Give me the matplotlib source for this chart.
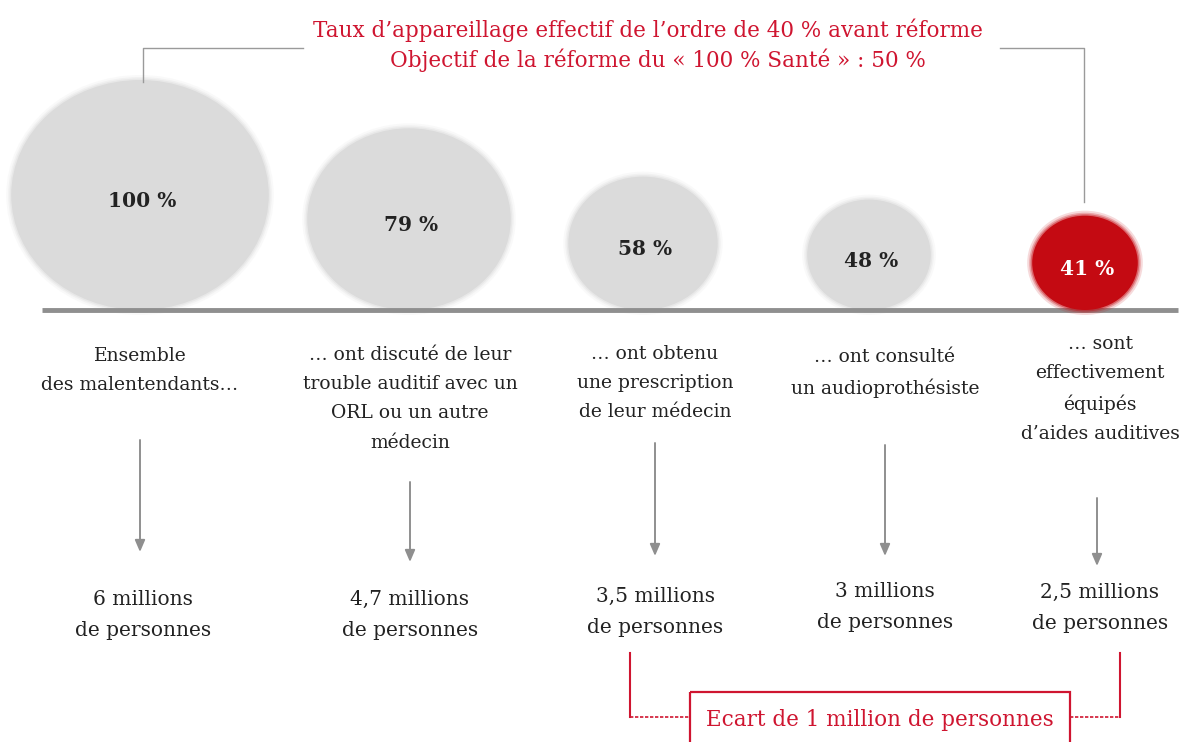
import numpy as np
import matplotlib
matplotlib.use('Agg')
import matplotlib.pyplot as plt
from matplotlib.patches import Ellipse, Rectangle

# share of the hard-of-hearing population at each step of the care path
steps = ['Ensemble\ndes malentendants…',
         '… ont discuté de leur\ntrouble auditif avec un\nORL ou un autre\nmédecin',
         '… ont obtenu\nune prescription\nde leur médecin',
         '… ont consulté\nun audioprothésiste',
         '… sont\neffectivement\néquipés\nd\u2019aides auditives']
shares = [100, 79, 58, 48, 41]
people_millions = [6, 4.7, 3.5, 3, 2.5]

title_lines = ['Taux d\u2019appareillage effectif de l\u2019ordre de 40 % avant réforme',
               'Objectif de la réforme du « 100 % Santé » : 50 %']

# layout, in pixels of the final image (y grows downwards)
W, H = 1191, 742
circle_x = [140, 409, 643, 869, 1085]
text_x = [140, 410, 655, 885, 1100]
arrow_x = [140, 410, 655, 885, 1097]
step_top = [355, 354, 353, 356, 343]
arrow_span = [(440, 552), (482, 562), (443, 556), (445, 556), (498, 566)]
people_top = [600, 600, 597, 592, 593]
base_y = 310
px_per_pct = 2.3      # vertical diameter per percentage point
stretch = 1.12        # circles are slightly wider than tall

grey_fill = '#dbdbdb'
red_fill = '#c40a12'
red_text = '#cf1530'
line_grey = '#8f8f8f'
serif = 'DejaVu Serif'

fig = plt.figure(figsize=(W / 100, H / 100), dpi=100)
ax = fig.add_axes([0, 0, 1, 1])
ax.set_xlim(0, W)
ax.set_ylim(H, 0)
ax.axis('off')


def fmt_millions(v):
    s = ('%g' % v).replace('.', ',')
    unit = 'million' if v < 2 else 'millions'
    return f'{s} {unit}\nde personnes'


# circles sitting on the base line
for i, (cx, v) in enumerate(zip(circle_x, shares)):
    h = v * px_per_pct
    w = h * stretch
    cy = base_y - h / 2
    last = i == len(shares) - 1
    colour = red_fill if last else grey_fill
    z = 4 if last else 2
    # soft halo around the disc
    for k, a in [(10, 0.15), (6, 0.25), (3, 0.4)]:
        ax.add_patch(Ellipse((cx, cy), w + k, h + k, color=colour, alpha=a,
                             lw=0, zorder=z))
    ax.add_patch(Ellipse((cx, cy), w, h, color=colour, lw=0, zorder=z))
    ax.text(cx + 2, cy + 6, f'{v} %', ha='center', va='center',
            fontsize=14.5, fontweight='bold', family=serif,
            color='white' if last else '#222222', zorder=5)

ax.plot([42, 1178], [base_y, base_y], color=line_grey, lw=3.5,
        solid_capstyle='butt', zorder=3)

# step descriptions, arrows and head counts
for i in range(len(steps)):
    ax.text(text_x[i], step_top[i] - 8, steps[i], ha='center', va='top',
            fontsize=13.5, family=serif, color='#222222', linespacing=1.8)
    y0, y1 = arrow_span[i]
    ax.annotate('', xy=(arrow_x[i], y1), xytext=(arrow_x[i], y0),
                arrowprops=dict(arrowstyle='-|>,head_length=0.7,head_width=0.3',
                                color=line_grey, lw=1.4, shrinkA=0, shrinkB=0))
    ax.text(text_x[i] + (3 if i == 0 else 0), people_top[i] - 10,
            fmt_millions(people_millions[i]), ha='center', va='top',
            fontsize=14.5, family=serif, color='#222222', linespacing=1.82)

# bracket joining the first and last circles under the title
ax.plot([143, 143, 303], [82, 48, 48], color='#9a9a9a', lw=1)
ax.plot([1000, 1084, 1084], [48, 48, 202], color='#9a9a9a', lw=1)
ax.text(648, 30, title_lines[0], ha='center', va='center',
        fontsize=15.5, family=serif, color=red_text)
ax.text(658, 60, title_lines[1], ha='center', va='center',
        fontsize=15.5, family=serif, color=red_text)

# gap between the prescriptions and the equipped people
gap = people_millions[2] - people_millions[4]
gap_label = f'Ecart de {("%g" % gap).replace(".", ",")} ' + \
            ('million' if gap < 2 else 'millions') + ' de personnes'
ax.plot([630, 630], [653, 717], color=red_text, lw=1.5)
ax.plot([630, 690], [717, 717], color=red_text, lw=1.2, ls=(0, (2, 1)))
ax.plot([1120, 1120], [653, 717], color=red_text, lw=1.5)
ax.plot([1070, 1120], [717, 717], color=red_text, lw=1.2, ls=(0, (2, 1)))
ax.add_patch(Rectangle((690, 692), 380, 70, fill=False, ec=red_text, lw=1.6,
                       clip_on=True))
ax.text(880, 720, gap_label, ha='center', va='center', fontsize=15.5,
        family=serif, color=red_text)

fig.savefig('out.png', dpi=100, facecolor='white')
